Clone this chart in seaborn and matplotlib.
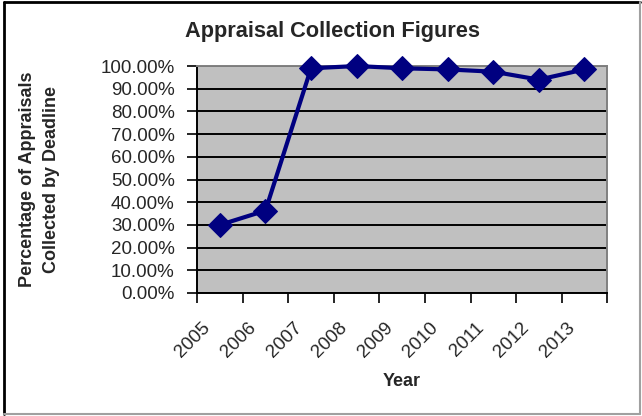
import matplotlib.pyplot as plt
import seaborn as sns
import pandas as pd
import numpy as np
from matplotlib.lines import Line2D
from matplotlib.transforms import ScaledTranslation

# values
years = ["2005", "2006", "2007", "2008", "2009", "2010", "2011", "2012", "2013"]
collected_pct = [30.0, 36.3, 99.0, 100.0, 99.0, 98.5, 97.5, 94.0, 98.5]
y_ticks = [0, 10, 20, 30, 40, 50, 60, 70, 80, 90, 100]

df = pd.DataFrame({"Year": years, "Collected": collected_pct})

sns.set_theme(style="white")
plt.rcParams["font.family"] = ["Liberation Sans", "DejaVu Sans"]

fig = plt.figure(figsize=(6.42, 4.16), dpi=100)
ax = fig.add_axes([0.307, 0.2957, 0.6388, 0.5456])
ax.set_facecolor("#C0C0C0")

sns.lineplot(data=df, x="Year", y="Collected", ax=ax, color="#000080",
             lw=3, marker="D", markersize=12, markeredgecolor="#000080",
             zorder=3, clip_on=False)

# y axis
ax.set_ylim(0, 100)
ax.set_yticks(y_ticks)
ax.set_yticklabels([f"{v:.2f}%" for v in y_ticks])
ax.yaxis.grid(True, color="black", lw=1.4)
ax.set_axisbelow(True)
ax.tick_params(axis="y", direction="out", length=7, width=1.2, color="black",
               pad=9, labelsize=13.5, left=True)

# x axis: ticks at category boundaries, labels at centers
ax.set_xlim(-0.5, len(years) - 0.5)
ax.set_xticks(np.arange(-0.5, len(years), 1))
ax.set_xticklabels([])
ax.set_xticks(np.arange(len(years)), minor=True)
ax.set_xticklabels(years, minor=True, rotation=45, ha="right",
                   va="top", rotation_mode="anchor")
ax.tick_params(axis="x", which="major", direction="out", length=7,
               width=1.2, color="black", bottom=True)
ax.tick_params(axis="x", which="minor", length=0, pad=19, labelsize=13.5)
shift = ScaledTranslation(-18 / 100, 0, fig.dpi_scale_trans)
for lbl in ax.get_xticklabels(minor=True):
    lbl.set_transform(lbl.get_transform() + shift)

for side in ["left", "bottom"]:
    ax.spines[side].set_color("black")
    ax.spines[side].set_linewidth(1.4)
for side in ["top", "right"]:
    ax.spines[side].set_color("#808080")
    ax.spines[side].set_linewidth(1.4)

ax.set_xlabel("")
ax.set_ylabel("")
fig.text(0.518, 0.924, "Appraisal Collection Figures", ha="center", va="center",
         fontsize=15.7, fontweight="bold")
fig.text(0.061, 0.5685, "Percentage of Appraisals\nCollected by Deadline",
         rotation=90, ha="center", va="center", fontsize=13,
         fontweight="bold", linespacing=1.55)
fig.text(0.626, 0.084, "Year", ha="center", va="center", fontsize=13,
         fontweight="bold")

# chart frame
fig.add_artist(Line2D([0.007, 0.007], [0.006, 0.994], color="black", lw=2))
fig.add_artist(Line2D([0.007, 0.997], [0.994, 0.994], color="black", lw=2))
fig.add_artist(Line2D([0.007, 0.997], [0.006, 0.006], color="#A0A0A0", lw=1.5))
fig.add_artist(Line2D([0.997, 0.997], [0.006, 0.994], color="#A0A0A0", lw=1.5))

fig.savefig("out.png", dpi=100)
